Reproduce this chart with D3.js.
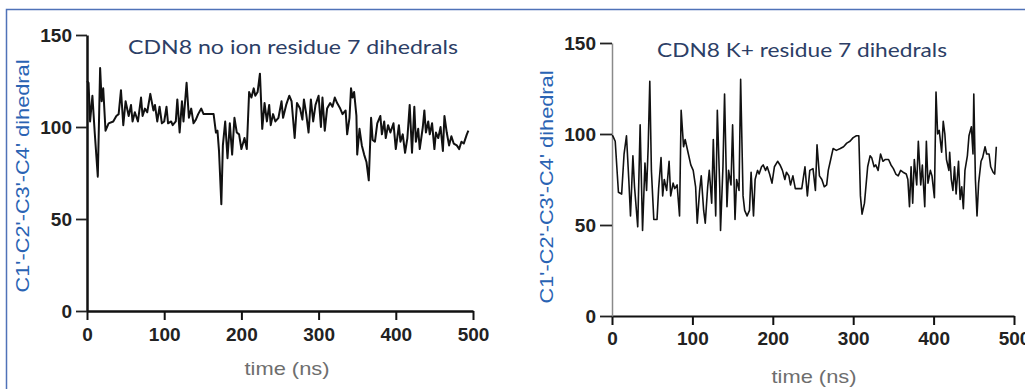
<!DOCTYPE html>
<html>
<head>
<meta charset="utf-8">
<script src="https://cdn.jsdelivr.net/npm/d3@7"></script>
<style>
  body { margin: 0; background: #fff; }
  svg { display: block; }
</style>
</head>
<body>
<div id="chart"></div>
<script>
// CDN8 no ion, residue 7: time (ns) and dihedral (deg)
const noIonT = [0,2,4,7,10,14,17,19,21,24,28,34,38,41,44,47,50,54,57,59,62,66,70,72,75,78,82,86,88,91,94,97,100,103,105,109,111,115,117,120,123,125,129,132,135,138,141,144,148,151,155,159,164,167,169,171,174,176,179,182,185,188,191,194,197,200,204,207,210,213,216,218,221,224,227,230,233,236,238,241,244,248,252,254,258,262,265,269,272,276,279,281,284,287,290,293,296,300,303,305,308,311,315,318,321,324,328,331,335,337,340,342,344,346,349,350,353,356,359,362,365,368,370,373,376,380,382,385,387,390,393,397,400,404,406,409,412,415,418,421,424,426,429,431,435,437,439,442,444,447,450,452,455,458,461,463,466,469,472,475,479,482,485,488,492,494];
const noIonV = [125,124,103,117,97,73,132,114,121,98,102,103,106,107,120,101,114,106,112,103,108,103,116,106,110,108,118,109,112,103,111,102,103,111,102,103,101,103,115,97,114,103,124,105,110,102,104,107,110,107,107,107,107,97,98,87,58,90,103,83,102,85,105,97,96,88,94,88,119,116,121,117,119,129,99,113,103,112,101,107,103,105,114,105,112,117,114,94,113,110,104,115,107,97,115,103,112,117,100,116,98,110,113,111,116,113,110,107,109,96,105,121,116,119,106,85,99,90,85,81,71,105,93,92,102,106,96,103,94,101,97,102,88,101,92,96,86,94,112,86,111,92,99,88,100,109,97,103,96,102,88,97,94,100,87,106,97,90,95,91,90,88,92,91,96,98];

// CDN8 K+, residue 7
const kPlusT = [0,1,4,8,12,15,18,21,23,26,28,32,35,38,41,43,45,47,49,52,56,58,61,63,65,68,71,73,76,78,81,84,86,89,91,95,98,101,104,106,109,111,114,116,119,121,124,126,129,131,134,135,138,140,143,145,148,150,153,155,158,160,163,165,168,171,173,176,178,181,183,186,188,191,193,196,199,202,206,209,212,215,217,220,222,225,228,232,236,240,243,246,250,253,255,258,261,264,267,269,272,275,279,284,288,292,296,300,304,307,309,311,314,318,321,323,326,328,331,334,337,340,344,347,350,353,356,359,362,366,368,370,372,374,376,379,381,384,386,389,391,393,396,398,401,403,405,407,410,412,414,416,419,420,422,424,426,428,431,433,435,437,439,442,444,447,449,450,452,454,456,459,461,464,466,469,471,474,476,478];
const kPlusV = [99,99,96,68,67,89,99,74,55,88,71,49,105,47,84,69,93,129,80,53,53,70,87,66,75,69,85,66,73,70,72,55,113,93,97,89,83,80,71,51,69,77,58,51,71,80,62,97,55,113,71,47,82,122,60,80,72,105,53,75,69,130,66,58,55,58,79,55,75,80,78,82,83,80,82,78,73,82,85,83,80,75,79,77,72,77,70,70,70,82,66,80,81,69,94,77,75,71,72,80,86,92,91,92,93,95,96,98,99,99,66,56,62,82,88,87,82,83,80,89,85,86,86,83,81,78,77,80,79,78,75,60,82,62,86,72,96,72,83,60,96,73,80,77,65,123,100,102,90,107,100,86,80,90,75,69,82,67,85,64,71,59,80,88,99,104,89,122,75,55,73,85,87,93,89,89,82,79,78,93];

const xTicks = [0, 100, 200, 300, 400, 500];
const yTicks = [0, 50, 100, 150];

const W = 1025, H = 389;
const svg = d3.select("#chart").append("svg")
  .attr("width", W).attr("height", H);

// blue frame (top + left edge only visible)
svg.append("path")
  .attr("d", `M6.5,${H} V9.5 H${W}`)
  .attr("fill", "none")
  .attr("stroke", "#4f72b8")
  .attr("stroke-width", 1.5);

const panels = [
  {
    t: noIonT, v: noIonV,
    x: [87, 473], y: [311, 35],
    title: "CDN8 no ion residue 7  dihedrals", titleX: 293, titleY: 54, titleLen: 330,
    ylabX: 23, ylabY: 176,
    xlabX: 287, xlabY: 375,
    yAxisColor: "#111", yAxisW: 2.5, xAxisW: 2.5,
    xTickPad: 8, yTickSize: 11, lineW: 2
  },
  {
    t: kPlusT, v: kPlusV,
    x: [612, 1014], y: [316, 43],
    title: "CDN8 K+ residue 7 dihedrals", titleX: 802, titleY: 57, titleLen: 290,
    ylabX: 547, ylabY: 187,
    xlabX: 814, xlabY: 383,
    yAxisColor: "#8a8a8a", yAxisW: 1.5, xAxisW: 2.2,
    xTickPad: 7, yTickSize: 12, lineW: 1.6
  }
];

panels.forEach(p => {
  const x = d3.scaleLinear().domain([0, 500]).range(p.x);
  const y = d3.scaleLinear().domain([0, 150]).range(p.y);

  const gx = svg.append("g")
    .attr("transform", `translate(0,${p.y[0]})`)
    .call(d3.axisBottom(x).tickValues(xTicks).tickSize(9).tickSizeOuter(0).tickPadding(p.xTickPad));
  gx.select(".domain").attr("stroke", "#111").attr("stroke-width", p.xAxisW);
  gx.selectAll(".tick line").attr("stroke", "#111").attr("stroke-width", 2);
  gx.selectAll("text")
    .attr("font-family", "'Liberation Sans', Arial, sans-serif")
    .attr("font-weight", "bold")
    .attr("font-size", "19px")
    .attr("fill", "#222");

  const gy = svg.append("g")
    .attr("transform", `translate(${p.x[0]},0)`)
    .call(d3.axisLeft(y).tickValues(yTicks).tickSize(p.yTickSize).tickSizeOuter(0).tickPadding(4));
  gy.select(".domain").attr("stroke", p.yAxisColor).attr("stroke-width", p.yAxisW);
  gy.selectAll(".tick line").attr("stroke", "#222").attr("stroke-width", 1.8);
  gy.selectAll("text")
    .attr("font-family", "'Liberation Sans', Arial, sans-serif")
    .attr("font-weight", "bold")
    .attr("font-size", "19px")
    .attr("fill", "#222");

  const pts = p.t.map((d, i) => [d, p.v[i]]);
  svg.append("path")
    .datum(pts)
    .attr("fill", "none")
    .attr("stroke", "#111")
    .attr("stroke-width", p.lineW)
    .attr("stroke-linejoin", "round")
    .attr("d", d3.line().x(d => x(d[0])).y(d => y(d[1])));

  svg.append("text")
    .attr("x", p.titleX).attr("y", p.titleY)
    .attr("text-anchor", "middle")
    .attr("font-family", "Lato, 'Open Sans', sans-serif")
    .attr("font-size", "20px")
    .attr("fill", "#2c3e66")
    .attr("textLength", p.titleLen)
    .attr("lengthAdjust", "spacingAndGlyphs")
    .text(p.title);

  svg.append("text")
    .attr("transform", `translate(${p.ylabX},${p.ylabY}) rotate(-90)`)
    .attr("text-anchor", "middle")
    .attr("dy", "0.35em")
    .attr("font-family", "'Liberation Sans', Arial, sans-serif")
    .attr("font-size", "18px")
    .attr("fill", "#2a63b3")
    .attr("textLength", 233)
    .attr("lengthAdjust", "spacingAndGlyphs")
    .text("C1'-C2'-C3'-C4' dihedral");

  svg.append("text")
    .attr("x", p.xlabX).attr("y", p.xlabY)
    .attr("text-anchor", "middle")
    .attr("font-family", "'Liberation Sans', Arial, sans-serif")
    .attr("font-size", "19px")
    .attr("fill", "#6e6e6e")
    .attr("textLength", 85)
    .attr("lengthAdjust", "spacingAndGlyphs")
    .text("time (ns)");
});
</script>
</body>
</html>
